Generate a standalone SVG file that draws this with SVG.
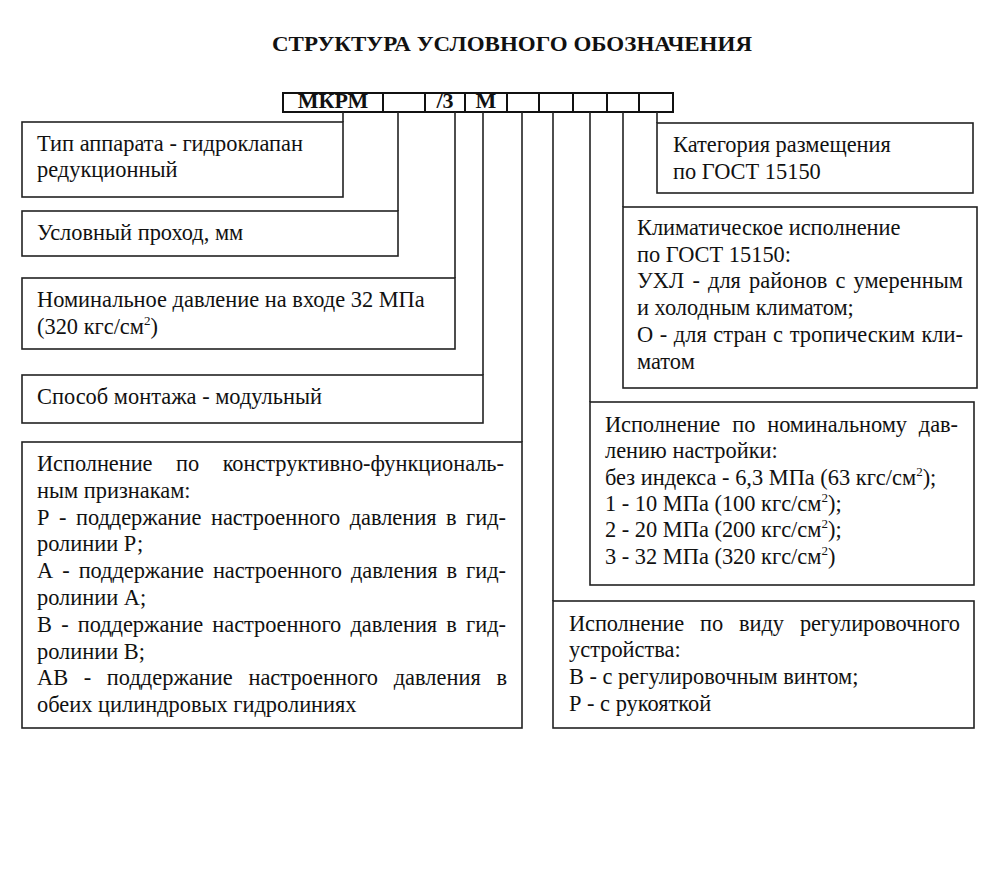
<svg xmlns="http://www.w3.org/2000/svg" width="1000" height="884" viewBox="0 0 1000 884">
<style>
text{font-family:"Liberation Serif","Times New Roman",serif;font-size:22.4px;fill:#111}
.title{font-weight:bold;font-size:22px}
.hd{font-weight:bold;text-anchor:middle;font-size:22px}
.box{fill:none;stroke:#222;stroke-width:1.6}
.hbox{fill:none;stroke:#111;stroke-width:2}
.con{fill:none;stroke:#222;stroke-width:1.6}
.sup{font-size:13px}
</style>
<rect width="1000" height="884" fill="#fff"/>
<text class="title" x="272" y="51" textLength="480" lengthAdjust="spacingAndGlyphs">СТРУКТУРА УСЛОВНОГО ОБОЗНАЧЕНИЯ</text>
<g id="header">
<rect class="hbox" x="283" y="93" width="390" height="19"/>
<path class="hbox" d="M383 93V112M425 93V112M465 93V112M507 93V112M539 93V112M573 93V112M607 93V112M639 93V112"/>
<text class="hd" x="333" y="108">МКРМ</text>
<text class="hd" x="445" y="108">/3</text>
<text class="hd" x="486" y="108">М</text>
</g>
<g id="connectors">
<path class="con" d="M343 112V122M398 112V211M455 112V278M483 112V375M522 112V442M553 112V601M590 112V402M623 112V207M657 112V123"/>
</g>
<g id="type">
<rect class="box" x="22" y="122" width="321" height="75"/>
<text x="37" y="150.5">Тип аппарата - гидроклапан</text>
<text x="37" y="177">редукционный</text>
</g>
<g id="dn">
<rect class="box" x="22" y="211" width="376" height="45"/>
<text x="37" y="240">Условный проход, мм</text>
</g>
<g id="pressure">
<rect class="box" x="22" y="278" width="433" height="71"/>
<text x="37" y="307">Номинальное давление на входе 32 МПа</text>
<text x="37" y="334">(320 кгс/см<tspan class="sup" dy="-9">2</tspan><tspan dy="9">)</tspan></text>
</g>
<g id="mount">
<rect class="box" x="22" y="375" width="461" height="48"/>
<text x="37" y="403.5">Способ монтажа - модульный</text>
</g>
<g id="function">
<rect class="box" x="22" y="442" width="500" height="286"/>
<text x="37" y="471" word-spacing="18" textLength="467" lengthAdjust="spacing">Исполнение по конструктивно-функциональ-</text>
<text x="37" y="497.8">ным признакам:</text>
<text x="37" y="524.6" word-spacing="4" textLength="469" lengthAdjust="spacing">Р - поддержание настроенного давления в гид-</text>
<text x="37" y="551.4">ролинии Р;</text>
<text x="37" y="578.2" word-spacing="3.5" textLength="469" lengthAdjust="spacing">А - поддержание настроенного давления в гид-</text>
<text x="37" y="605">ролинии А;</text>
<text x="37" y="631.8" word-spacing="3.7" textLength="469" lengthAdjust="spacing">В - поддержание настроенного давления в гид-</text>
<text x="37" y="658.6">ролинии В;</text>
<text x="37" y="685.4" word-spacing="10" textLength="470" lengthAdjust="spacing">АВ - поддержание настроенного давления в</text>
<text x="37" y="712.2">обеих цилиндровых гидролиниях</text>
</g>
<g id="category">
<rect class="box" x="657" y="123" width="316" height="70"/>
<text x="673" y="152">Категория размещения</text>
<text x="673" y="179">по ГОСТ 15150</text>
</g>
<g id="climate">
<rect class="box" x="623" y="207" width="354" height="181"/>
<text x="637" y="235">Климатическое исполнение</text>
<text x="637" y="261.7">по ГОСТ 15150:</text>
<text x="637" y="288.4" word-spacing="2.5" textLength="326" lengthAdjust="spacing">УХЛ - для районов с умеренным</text>
<text x="637" y="315.1">и холодным климатом;</text>
<text x="637" y="341.8" word-spacing="1" textLength="326" lengthAdjust="spacing">О - для стран с тропическим кли-</text>
<text x="637" y="368.5">матом</text>
</g>
<g id="setpressure">
<rect class="box" x="590" y="402" width="384" height="183"/>
<text x="605" y="432" word-spacing="6.5" textLength="353" lengthAdjust="spacing">Исполнение по номинальному дав-</text>
<text x="605" y="458.3">лению настройки:</text>
<text x="605" y="484.6">без индекса - 6,3 МПа (63 кгс/см<tspan class="sup" dy="-9">2</tspan><tspan dy="9">);</tspan></text>
<text x="605" y="510.9">1 - 10 МПа (100 кгс/см<tspan class="sup" dy="-9">2</tspan><tspan dy="9">);</tspan></text>
<text x="605" y="537.2">2 - 20 МПа (200 кгс/см<tspan class="sup" dy="-9">2</tspan><tspan dy="9">);</tspan></text>
<text x="605" y="563.5">3 - 32 МПа (320 кгс/см<tspan class="sup" dy="-9">2</tspan><tspan dy="9">)</tspan></text>
</g>
<g id="adjust">
<rect class="box" x="553" y="601" width="421" height="127"/>
<text x="569" y="630.5" word-spacing="10.5" textLength="391" lengthAdjust="spacing">Исполнение по виду регулировочного</text>
<text x="569" y="657.2">устройства:</text>
<text x="569" y="683.9">В - с регулировочным винтом;</text>
<text x="569" y="710.6">Р - с рукояткой</text>
</g>
</svg>
